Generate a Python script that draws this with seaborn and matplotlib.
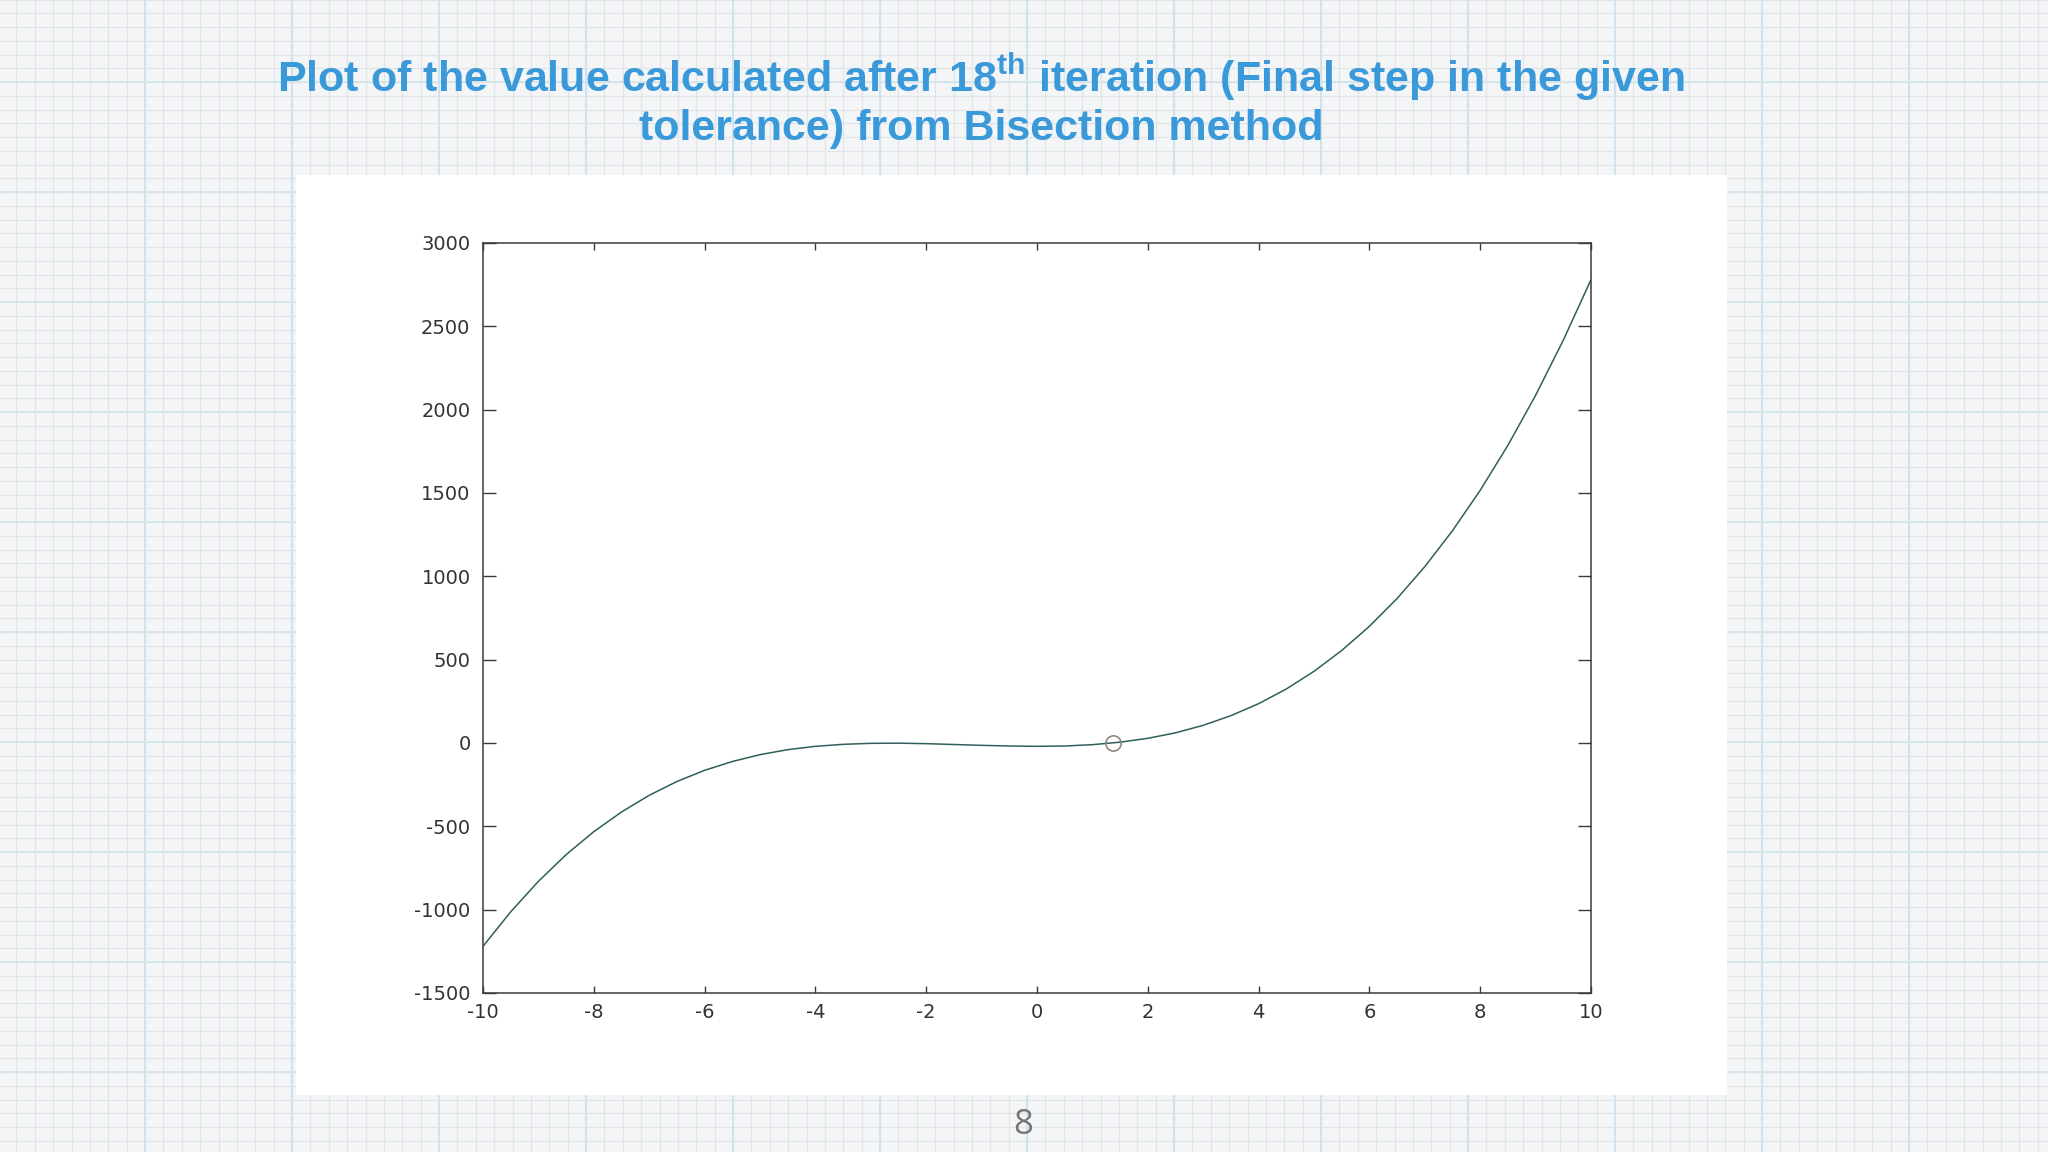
import matplotlib
matplotlib.use("Agg")
import matplotlib.pyplot as plt
import seaborn as sns
import numpy as np
from matplotlib.patches import Rectangle

# ---------------- data ----------------
x_vals = [-10, -9.5, -9, -8.5, -8, -7.5, -7, -6.5, -6, -5.5, -5, -4.5, -4, -3.5,
          -3, -2.5, -2, -1.5, -1, -0.5, 0, 0.5, 1, 1.5, 2, 2.5, 3, 3.5, 4, 4.5,
          5, 5.5, 6, 6.5, 7, 7.5, 8, 8.5, 9, 9.5, 10]
y_vals = [-1220, -1013, -830, -670, -532, -414, -314, -231, -164, -111, -70, -40,
          -20, -8, -2, -1, -4, -9, -14, -18, -20, -18, -10, 5, 28, 61, 106, 164,
          236, 324, 430, 555, 700, 867, 1058, 1274, 1516, 1786, 2086, 2417, 2780]
root_x = [1.365]
root_y = [0]
x_ticks = [-10, -8, -6, -4, -2, 0, 2, 4, 6, 8, 10]
y_ticks = [-1500, -1000, -500, 0, 500, 1000, 1500, 2000, 2500, 3000]
title_line1 = "Plot of the value calculated after 18$^{\\mathbf{th}}$ iteration (Final step in the given"
title_line2 = "tolerance) from Bisection method"
page_number = "8"

# ---------------- style ----------------
sns.set_theme(style="white")
plt.rcParams['font.family'] = ['DejaVu Sans']
plt.rcParams['mathtext.fontset'] = 'custom'
plt.rcParams['mathtext.rm'] = 'Liberation Sans:bold'
plt.rcParams['mathtext.bf'] = 'Liberation Sans:bold'
plt.rcParams['mathtext.it'] = 'Liberation Sans:bold'

W, H = 2048, 1152
fig = plt.figure(figsize=(W / 100, H / 100), dpi=100)
fig.patch.set_facecolor('#f3f5f6')

# graph-paper background
bg = fig.add_axes([0, 0, 1, 1], zorder=-10)
bg.set_xlim(0, W)
bg.set_ylim(H, 0)
bg.axis('off')
minor_x = np.arange(145 - 147 * 2, W + 20, 147 / 8)
minor_y = np.arange(82 - 110 * 2, H + 20, 110 / 8)
bg.vlines(minor_x, 0, H, color='#e1e5e8', lw=0.9)
bg.hlines(minor_y, 0, W, color='#e1e5e8', lw=0.9)
major_x = np.arange(145, W + 20, 147)
major_y = np.arange(82, H + 20, 110)
bg.vlines(major_x, 0, H, color='#d0e2ee', lw=1.4)
bg.hlines(major_y, 0, W, color='#d4e4ea', lw=1.3)

# white picture panel
panel = Rectangle((296 / W, 1 - 1095 / H), (1727 - 296) / W, (1095 - 175) / H,
                  transform=fig.transFigure, facecolor='white', edgecolor='none',
                  zorder=-5)
fig.patches.append(panel)

# main axes
ax = fig.add_axes([483 / W, 1 - 993 / H, (1591 - 483) / W, (993 - 243) / H])
ax.set_facecolor('white')
sns.lineplot(x=x_vals, y=y_vals, ax=ax, color='#2f5f5c', lw=1.1, sort=True)
ax.plot(root_x, root_y, linestyle='none', marker='o', markersize=11,
        markerfacecolor='none', markeredgecolor='#8c7e72', markeredgewidth=1.1)

ax.set_xlim(-10, 10)
ax.set_ylim(-1500, 3000)
ax.set_xticks(x_ticks)
ax.set_yticks(y_ticks)
ax.set_xticklabels([str(t) for t in x_ticks])
ax.set_yticklabels([str(t) for t in y_ticks])
for s in ax.spines.values():
    s.set_visible(True)
    s.set_color('#3a3a3a')
    s.set_linewidth(1.1)
ax.tick_params(axis='x', direction='in', length=5, width=1.0, color='#3a3a3a',
               top=True, bottom=True, labelsize=14, labelcolor='#333333', pad=7)
ax.tick_params(axis='y', direction='in', length=9.5, width=1.0, color='#3a3a3a',
               left=True, right=True, labelsize=14, labelcolor='#333333', pad=9)
ax.grid(False)

# title
title_color = '#3a9ad9'
fig.text(0.479, 1 - 77 / H, title_line1, ha='center', va='center',
         fontsize=31, fontweight='bold', color=title_color,
         family=['Liberation Sans', 'DejaVu Sans'])
fig.text(0.479, 1 - 129 / H, title_line2, ha='center', va='center',
         fontsize=31, fontweight='bold', color=title_color,
         family=['Liberation Sans', 'DejaVu Sans'])

# page number
fig.text(1023 / W, 1 - 1125 / H, page_number, ha='center', va='center',
         fontsize=25, color='#767676', family=['Open Sans', 'DejaVu Sans'],
         zorder=10)

fig.savefig('out.png', dpi=100, facecolor=fig.get_facecolor())
